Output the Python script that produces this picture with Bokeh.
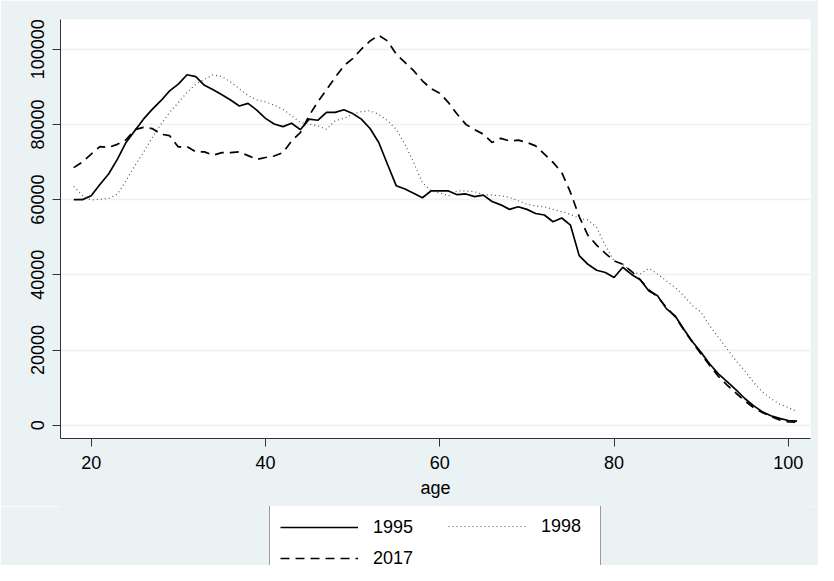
from bokeh.plotting import figure
from bokeh.layouts import column
from bokeh.models import (ColumnDataSource, Range1d, FixedTicker, NumeralTickFormatter,
                          Legend, LegendItem)
from bokeh.embed import file_html
from bokeh.resources import INLINE

ages = list(range(18, 102))

y1995 = [60000, 60000, 61000, 64000, 66800, 70700, 75200, 78300, 81400, 84000,
         86300, 88900, 90700, 93200, 92700, 90400, 89200, 87900, 86500, 84900,
         85600, 83800, 81600, 80100, 79400, 80300, 78600, 81400, 81100, 83200,
         83200, 83900, 82900, 81400, 78900, 75200, 69400, 63700, 62800, 61700,
         60500, 62300, 62300, 62300, 61300, 61500, 60800, 61200, 59500, 58600,
         57400, 58100, 57400, 56300, 55900, 54100, 55100, 53200, 45100, 42800,
         41200, 40600, 39300, 42000, 40100, 38700, 35700, 34400, 31000, 29100,
         25500, 22200, 19300, 16200, 13600, 11500, 9400, 7100, 5200, 3600,
         2500, 1800, 1250, 1100]

y1998 = [63500, 61100, 59900, 60100, 60300, 61400, 65000, 69000, 72500, 76500,
         80000, 83200, 85800, 88500, 90700, 92000, 93200, 92700, 91300, 89500,
         87700, 86500, 86000, 85100, 84000, 82300, 80500, 80100, 79600, 78700,
         81000, 81600, 82700, 83400, 83600, 82700, 81000, 78700, 74700, 69900,
         64500, 62300, 61800, 61000, 62300, 62300, 62100, 61300, 61200, 61000,
         60600, 59700, 58800, 58300, 58100, 57400, 56800, 56100, 55000, 54600,
         52600, 47700, 43700, 42800, 40800, 40200, 41700, 40200, 38400, 36600,
         34400, 31800, 30000, 26400, 23300, 20200, 17100, 14500, 11400, 8900,
         7100, 5600, 4700, 3600]

y2017 = [68500, 70000, 72100, 74100, 73900, 74700, 75900, 78600, 79200, 78900,
         77400, 77000, 74000, 74100, 72700, 72700, 71800, 72500, 72500, 72700,
         71700, 70700, 71200, 71600, 72500, 75600, 77800, 82300, 86000, 89200,
         92500, 95600, 97500, 100000, 102200, 103700, 102200, 98700, 96500, 94300,
         91600, 89500, 88300, 85800, 82700, 80000, 78600, 77400, 75200, 76300,
         75600, 75800, 75200, 74300, 72100, 69900, 67200, 61900, 55500, 50500,
         47900, 45700, 43700, 42800, 40900, 38700, 36000, 34200, 31300, 28900,
         25400, 22000, 18900, 15800, 12900, 10600, 8500, 6500, 4700, 3400,
         2300, 1400, 900, 800]

x_ticks = [20, 40, 60, 80, 100]
y_ticks = [0, 20000, 40000, 60000, 80000, 100000]
series_labels = ["1995", "1998", "2017"]
x_title = "age"

FONT = "Liberation Sans"
BG = "#EAF2F3"

STYLES = [dict(line_color="black", line_width=1.7),
          dict(line_color="#555555", line_width=1.2, line_dash="1 3"),
          dict(line_color="black", line_width=1.7, line_dash="9 6")]

src = ColumnDataSource(dict(age=ages, a=y1995, b=y1998, c=y2017))

# ---- main chart ----
fig = figure(width=818, height=506, output_backend="svg", toolbar_location=None,
             x_range=Range1d(16.48, 102.54), y_range=Range1d(-3537, 107900),
             min_border_left=60, min_border_right=8, min_border_top=19,
             min_border_bottom=68)
fig.background_fill_color = "white"
fig.border_fill_color = BG
fig.outline_line_color = None

fig.line("age", "a", source=src, **STYLES[0])
fig.line("age", "b", source=src, **STYLES[1])
fig.line("age", "c", source=src, **STYLES[2])

for ax in (fig.xaxis[0], fig.yaxis[0]):
    ax.axis_line_color = "#333333"
    ax.axis_line_width = 1
    ax.major_tick_line_color = "#333333"
    ax.major_tick_out = 8
    ax.major_tick_in = 0
    ax.minor_tick_line_color = None
    ax.major_label_text_font = FONT
    ax.major_label_text_font_size = "18px"
    ax.major_label_text_color = "black"

fig.xaxis.ticker = FixedTicker(ticks=x_ticks)
fig.yaxis.ticker = FixedTicker(ticks=y_ticks)
fig.yaxis.formatter = NumeralTickFormatter(format="0")
fig.yaxis.major_label_orientation = "vertical"
fig.yaxis.major_label_standoff = 8
fig.xaxis.major_label_standoff = 9
fig.xaxis.axis_label = x_title
fig.xaxis.axis_label_text_font = FONT
fig.xaxis.axis_label_text_font_size = "18px"
fig.xaxis.axis_label_text_font_style = "normal"
fig.xaxis.axis_label_text_color = "black"
fig.xaxis.axis_label_standoff = 6

fig.xgrid.grid_line_color = None
fig.ygrid.grid_line_color = BG
fig.ygrid.grid_line_width = 1.5

# ---- legend strip below the chart (its own lines fall outside its view) ----
leg = figure(width=818, height=59, output_backend="svg", toolbar_location=None,
             x_range=Range1d(0, 1), y_range=Range1d(0, 1),
             x_axis_type=None, y_axis_type=None,
             min_border_left=60, min_border_right=8, min_border_top=0,
             min_border_bottom=0)
leg.background_fill_color = BG
leg.border_fill_color = BG
leg.outline_line_color = BG
leg.grid.visible = False

k1 = leg.line("age", "a", source=src, **STYLES[0])
k2 = leg.line("age", "b", source=src, **STYLES[1])
k3 = leg.line("age", "c", source=src, **STYLES[2])

common = dict(glyph_width=78, glyph_height=22, label_height=22, label_standoff=15,
              padding=10, spacing=9, margin=0,
              label_text_font=FONT, label_text_font_size="18px",
              label_text_color="black")

legA = Legend(items=[LegendItem(label=series_labels[0], renderers=[k1]),
                     LegendItem(label=series_labels[2], renderers=[k3])],
              location=(209, -15), label_width=217,
              border_line_color="#333333", border_line_width=1,
              background_fill_color="white", background_fill_alpha=1.0,
              **common)
legB = Legend(items=[LegendItem(label=series_labels[1], renderers=[k2])],
              location=(388, 28), label_width=20,
              border_line_color=None, background_fill_alpha=0.0,
              **common)
leg.add_layout(legA, "center")
leg.add_layout(legB, "center")

p = column(fig, leg, spacing=0)

open("out.html", "w").write(file_html(p, INLINE))
